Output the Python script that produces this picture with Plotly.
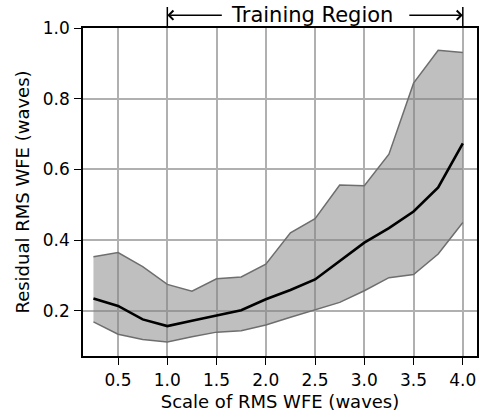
import plotly.graph_objects as go

scale = [0.25, 0.5, 0.75, 1.0, 1.25, 1.5, 1.75, 2.0, 2.25, 2.5, 2.75, 3.0, 3.25, 3.5, 3.75, 4.0]
mean_resid = [0.235, 0.214, 0.176, 0.157, 0.172, 0.186, 0.202, 0.233, 0.259, 0.289, 0.341, 0.393, 0.434, 0.481, 0.549, 0.674]
upper_resid = [0.353, 0.365, 0.325, 0.275, 0.256, 0.291, 0.296, 0.332, 0.421, 0.461, 0.556, 0.554, 0.643, 0.844, 0.937, 0.931]
lower_resid = [0.169, 0.134, 0.119, 0.112, 0.127, 0.140, 0.144, 0.160, 0.182, 0.202, 0.224, 0.257, 0.294, 0.303, 0.361, 0.450]

x_ticks = [0.5, 1.0, 1.5, 2.0, 2.5, 3.0, 3.5, 4.0]
x_labels = ["0.5", "1.0", "1.5", "2.0", "2.5", "3.0", "3.5", "4.0"]
y_ticks = [0.2, 0.4, 0.6, 0.8, 1.0]
y_labels = ["0.2", "0.4", "0.6", "0.8", "1.0"]
region_start, region_end = 1.0, 4.0
region_label = "Training Region"

FONT = "DejaVu Sans"
edge = "rgb(110,110,110)"

fig = go.Figure()
fig.add_trace(go.Scatter(x=scale, y=lower_resid, mode="lines",
                         line=dict(color=edge, width=1.5), showlegend=False))
fig.add_trace(go.Scatter(x=scale, y=upper_resid, mode="lines", fill="tonexty",
                         fillcolor="rgba(128,128,128,0.5)",
                         line=dict(color=edge, width=1.5), showlegend=False))
fig.add_trace(go.Scatter(x=scale, y=mean_resid, mode="lines",
                         line=dict(color="black", width=2.6), showlegend=False))

axis_common = dict(
    showline=True, linecolor="black", linewidth=1.6, mirror=True,
    showgrid=True, gridcolor="#b0b0b0", gridwidth=1.5,
    ticks="outside", ticklen=7, tickwidth=1.4, tickcolor="black",
    tickfont=dict(family=FONT, size=17, color="black"),
    zeroline=False, automargin=False,
)

fig.update_xaxes(range=[0.144, 4.144], tickvals=x_ticks, ticktext=x_labels,
                 title=dict(text="Scale of RMS WFE (waves)", font=dict(family=FONT, size=18, color="black"),
                            standoff=6),
                 ticklabelstandoff=1,
                 **axis_common)
fig.update_yaxes(range=[0.0725, 1.0], tickvals=y_ticks, ticktext=y_labels,
                 title=dict(text="Residual RMS WFE (waves)", font=dict(family=FONT, size=18, color="black"),
                            standoff=8),
                 ticklabelstandoff=1,
                 **axis_common)

arrow_y = 1.039
bar_top = 1.064
for xv in (region_start, region_end):
    fig.add_shape(type="line", xref="x", yref="paper", x0=xv, x1=xv, y0=1.0, y1=bar_top,
                  line=dict(color="black", width=1.5))

fig.add_annotation(x=region_start, y=arrow_y, xref="x", yref="paper", text="",
                   showarrow=True, ax=56, ay=0, axref="pixel", ayref="pixel",
                   arrowhead=4, arrowsize=1.2, arrowwidth=1.5, arrowcolor="black")
fig.add_annotation(x=region_end, y=arrow_y, xref="x", yref="paper", text="",
                   showarrow=True, ax=-55, ay=0, axref="pixel", ayref="pixel",
                   arrowhead=4, arrowsize=1.2, arrowwidth=1.5, arrowcolor="black")
fig.add_annotation(x=2.47, y=arrow_y, xref="x", yref="paper", text=region_label,
                   showarrow=False, yanchor="middle",
                   font=dict(family=FONT, size=21, color="black"))

fig.update_layout(
    width=481, height=417,
    margin=dict(l=83, r=4, t=28, b=61),
    paper_bgcolor="white", plot_bgcolor="white",
    font=dict(family=FONT, color="black"),
)

fig.write_html("out.html", config={"displayModeBar": False},
               post_script="document.body.style.margin='0';document.body.style.overflow='hidden';")
